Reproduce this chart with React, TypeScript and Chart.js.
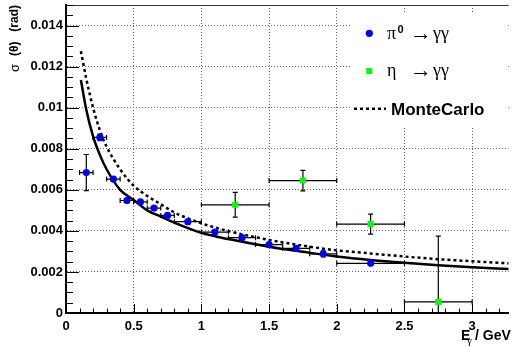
import React, { useEffect, useRef } from 'react';
import { Chart, registerables } from 'chart.js';

Chart.register(...registerables);

// pi0 -> gamma gamma
const PI0_E = [0.15, 0.25, 0.35, 0.45, 0.55, 0.65, 0.75, 0.9, 1.1, 1.3, 1.5, 1.7, 1.9, 2.25];
const PI0_SIGMA = [0.00684, 0.00855, 0.00652, 0.00548, 0.00541, 0.00511, 0.00475, 0.00445, 0.00394, 0.00367, 0.00333, 0.00315, 0.00288, 0.00242];
const PI0_EERR = [0.05, 0.05, 0.05, 0.05, 0.05, 0.05, 0.05, 0.1, 0.1, 0.1, 0.1, 0.1, 0.1, 0.25];
const PI0_SERR = [0.00088, 0.00016, 0.0001, 0.0001, 0.0001, 0.0001, 0.0001, 0.0001, 0.0001, 0.0001, 0.0001, 0.0001, 0.00015, 0.0001];

// eta -> gamma gamma
const ETA_E = [1.25, 1.75, 2.25, 2.75];
const ETA_SIGMA = [0.00527, 0.00645, 0.00433, 0.00054];
const ETA_EERR = [0.25, 0.25, 0.25, 0.25];
const ETA_SERR = [0.0006, 0.0005, 0.00049, 0.0032];

// curves
const CURVE_E = [0.11, 0.15, 0.2, 0.25, 0.3, 0.4, 0.5, 0.6, 0.7, 0.8, 1.0, 1.2, 1.5, 1.75, 2.0, 2.25, 2.5, 2.75, 3.0, 3.27];
const FIT_SIGMA = [0.01135, 0.0099, 0.0086, 0.0077, 0.007, 0.006, 0.0055, 0.005, 0.0047, 0.0044, 0.0039, 0.0036, 0.00323, 0.00298, 0.00275, 0.00258, 0.00245, 0.00233, 0.00223, 0.00214];
const MC_SIGMA = [0.01275, 0.0114, 0.01, 0.0089, 0.0081, 0.007, 0.0062, 0.0057, 0.0053, 0.0049, 0.00437, 0.00399, 0.00356, 0.00328, 0.00305, 0.0029, 0.00275, 0.00262, 0.00252, 0.00242];

const X_MIN = 0;
const X_MAX = 3.27;
const Y_MIN = 0;
const Y_MAX = 0.015;
const X_STEP = 0.5;
const Y_STEP = 0.002;
const X_MINOR = 0.1;
const Y_MINOR = 0.0005;

const SANS = "'Liberation Sans', Arial, Helvetica, sans-serif";
const SERIF = "'Liberation Serif', 'DejaVu Serif', serif";

const fmt = (v: number | string) => String(Number(Number(v).toFixed(6)));

const onStep = (v: number, step: number) => Math.abs(v / step - Math.round(v / step)) < 1e-6;

const stepTicks = (min: number, max: number, step: number) => {
  const out: { value: number }[] = [];
  for (let k = 0; ; k++) {
    const v = Number((min + k * step).toFixed(6));
    if (v > max + 1e-9) break;
    out.push({ value: v });
  }
  return out;
};

export default function App() {
  const ref = useRef<HTMLCanvasElement>(null);

  useEffect(() => {
    document.body.style.margin = '0';
    const canvas = ref.current!;

    const errorBars = (chart: any, xs: number[], ys: number[], xe: number[], ye: number[]) => {
      const { ctx, chartArea: a } = chart;
      const sx = chart.scales.x;
      const sy = chart.scales.y;
      ctx.save();
      ctx.beginPath();
      ctx.rect(a.left, a.top, a.right - a.left, a.bottom - a.top);
      ctx.clip();
      ctx.strokeStyle = '#000';
      ctx.lineWidth = 1.2;
      const cap = 2.5;
      for (let i = 0; i < xs.length; i++) {
        const px = sx.getPixelForValue(xs[i]);
        const py = sy.getPixelForValue(ys[i]);
        const x1 = sx.getPixelForValue(xs[i] - xe[i]);
        const x2 = sx.getPixelForValue(xs[i] + xe[i]);
        const y1 = sy.getPixelForValue(ys[i] - ye[i]);
        const y2 = sy.getPixelForValue(ys[i] + ye[i]);
        ctx.beginPath();
        ctx.moveTo(x1, py); ctx.lineTo(x2, py);
        ctx.moveTo(x1, py - cap); ctx.lineTo(x1, py + cap);
        ctx.moveTo(x2, py - cap); ctx.lineTo(x2, py + cap);
        ctx.moveTo(px, y1); ctx.lineTo(px, y2);
        ctx.moveTo(px - cap, y1); ctx.lineTo(px + cap, y1);
        ctx.moveTo(px - cap, y2); ctx.lineTo(px + cap, y2);
        ctx.stroke();
      }
      ctx.restore();
    };

    const custom = {
      id: 'rootStyle',
      beforeDatasetDraw(chart: any, args: any) {
        if (args.index === 0) errorBars(chart, PI0_E, PI0_SIGMA, PI0_EERR, PI0_SERR);
        if (args.index === 1) errorBars(chart, ETA_E, ETA_SIGMA, ETA_EERR, ETA_SERR);
      },
      afterDraw(chart: any) {
        const { ctx, chartArea: a } = chart;
        const sx = chart.scales.x;
        const sy = chart.scales.y;
        ctx.save();
        // top frame
        ctx.strokeStyle = '#333';
        ctx.lineWidth = 1;
        ctx.beginPath();
        ctx.moveTo(a.left, a.top + 0.5);
        ctx.lineTo(a.right, a.top + 0.5);
        ctx.stroke();
        // tick marks
        ctx.strokeStyle = '#000';
        ctx.lineWidth = 1;
        ctx.beginPath();
        for (let k = 0; ; k++) {
          const v = Y_MIN + k * Y_MINOR;
          if (v > Y_MAX + 1e-9) break;
          const p = Math.round(sy.getPixelForValue(v)) + 0.5;
          const len = onStep(v, Y_STEP) ? 13 : 7;
          ctx.moveTo(a.left, p);
          ctx.lineTo(a.left + len, p);
        }
        for (let k = 0; ; k++) {
          const v = X_MIN + k * X_MINOR;
          if (v > X_MAX + 1e-9) break;
          const p = Math.round(sx.getPixelForValue(v)) + 0.5;
          const len = onStep(v, X_STEP) ? 9 : 4.5;
          ctx.moveTo(p, a.bottom);
          ctx.lineTo(p, a.bottom - len);
        }
        ctx.stroke();

        // legend
        ctx.fillStyle = '#fff';
        ctx.fillRect(350, 13, 157, 114);
        ctx.fillStyle = '#0000ff';
        ctx.beginPath();
        ctx.arc(369.3, 33.3, 3.6, 0, Math.PI * 2);
        ctx.fill();
        ctx.fillStyle = '#00ff00';
        ctx.fillRect(366.3, 68, 6, 6);
        ctx.strokeStyle = '#000';
        ctx.lineWidth = 2.5;
        ctx.setLineDash([3, 3]);
        ctx.beginPath();
        ctx.moveTo(354, 108.7);
        ctx.lineTo(386, 108.7);
        ctx.stroke();
        ctx.setLineDash([]);

        ctx.fillStyle = '#000';
        ctx.textAlign = 'left';
        ctx.textBaseline = 'alphabetic';
        ctx.font = `18px ${SERIF}`;
        ctx.fillText('π', 387, 38.5);
        ctx.font = `bold 11px ${SANS}`;
        ctx.fillText('0', 397.5, 33);
        ctx.font = `22px ${SERIF}`;
        ctx.fillText('→', 410, 39.5);
        ctx.fillText('→', 410, 77);
        ctx.font = `18px ${SERIF}`;
        ctx.fillText('γγ', 433, 38.5);
        ctx.fillText('η', 387, 76);
        ctx.fillText('γγ', 433, 76);
        ctx.font = `bold 17px ${SANS}`;
        ctx.fillText('MonteCarlo', 391, 115);

        // x title
        ctx.font = `bold 14px ${SANS}`;
        ctx.fillText('E', 461, 340);
        ctx.font = `11px ${SERIF}`;
        ctx.fillText('γ', 467, 344);
        ctx.font = `bold 14px ${SANS}`;
        ctx.fillText('/ GeV', 475, 340);

        // y title (rotated)
        ctx.translate(15, 0);
        ctx.rotate(-Math.PI / 2);
        ctx.textBaseline = 'middle';
        ctx.font = `13px ${SANS}`;
        ctx.textAlign = 'left';
        ctx.fillText('σ', -72, 0);
        ctx.font = `bold 12px ${SANS}`;
        ctx.fillText('(θ)', -56, 0);
        ctx.textAlign = 'right';
        ctx.fillText('(rad)', -5, 0);
        ctx.restore();
      },
    };

    const tickFont = { family: SANS, size: 13, weight: 'bold' as const };

    const chart = new Chart(canvas, {
      type: 'scatter',
      data: {
        datasets: [
          {
            label: 'π0 → γγ',
            data: PI0_E.map((x, i) => ({ x, y: PI0_SIGMA[i] })),
            backgroundColor: '#0000ff',
            borderColor: '#0000ff',
            borderWidth: 0,
            pointRadius: 3.6,
            pointStyle: 'circle',
          },
          {
            label: 'η → γγ',
            data: ETA_E.map((x, i) => ({ x, y: ETA_SIGMA[i] })),
            backgroundColor: '#00ff00',
            borderColor: '#00ff00',
            borderWidth: 0,
            pointRadius: 4.3,
            pointStyle: 'rect',
          },
          {
            label: 'fit',
            data: CURVE_E.map((x, i) => ({ x, y: FIT_SIGMA[i] })),
            showLine: true,
            borderColor: '#000',
            borderWidth: 2.5,
            pointRadius: 0,
            cubicInterpolationMode: 'monotone',
            fill: false,
          },
          {
            label: 'MonteCarlo',
            data: CURVE_E.map((x, i) => ({ x, y: MC_SIGMA[i] })),
            showLine: true,
            borderColor: '#000',
            borderWidth: 2.5,
            borderDash: [3, 3],
            pointRadius: 0,
            cubicInterpolationMode: 'monotone',
            fill: false,
          },
        ],
      } as any,
      options: {
        responsive: false,
        animation: false,
        events: [],
        layout: { padding: { top: 5, left: 0, right: 0, bottom: 0 } },
        plugins: { legend: { display: false }, tooltip: { enabled: false } },
        scales: {
          x: {
            type: 'linear',
            min: X_MIN,
            max: X_MAX,
            afterBuildTicks: (s: any) => {
              s.ticks = stepTicks(X_MIN, X_MAX, X_STEP);
            },
            afterFit: (s: any) => {
              s.height = 34;
              s.paddingLeft = 0;
              s.paddingRight = 0;
            },
            ticks: { stepSize: X_STEP, font: tickFont, color: '#000', padding: 6, maxRotation: 0, autoSkip: false, callback: fmt },
            grid: { color: '#666', lineWidth: 1, drawTicks: false },
            border: { display: true, color: '#000', width: 2, dash: [1, 2] },
          },
          y: {
            type: 'linear',
            min: Y_MIN,
            max: Y_MAX,
            afterBuildTicks: (s: any) => {
              s.ticks = stepTicks(Y_MIN, Y_MAX, Y_STEP);
            },
            afterFit: (s: any) => {
              s.width = 66;
              s.paddingTop = 0;
              s.paddingBottom = 0;
            },
            ticks: { stepSize: Y_STEP, font: tickFont, color: '#000', padding: 3, autoSkip: false, callback: fmt },
            grid: { color: '#666', lineWidth: 1, drawTicks: false },
            border: { display: true, color: '#000', width: 2, dash: [1, 2] },
          },
        },
      } as any,
      plugins: [custom],
    });
    return () => chart.destroy();
  }, []);

  return <canvas ref={ref} width={513} height={347} style={{ display: 'block' }} />;
}
